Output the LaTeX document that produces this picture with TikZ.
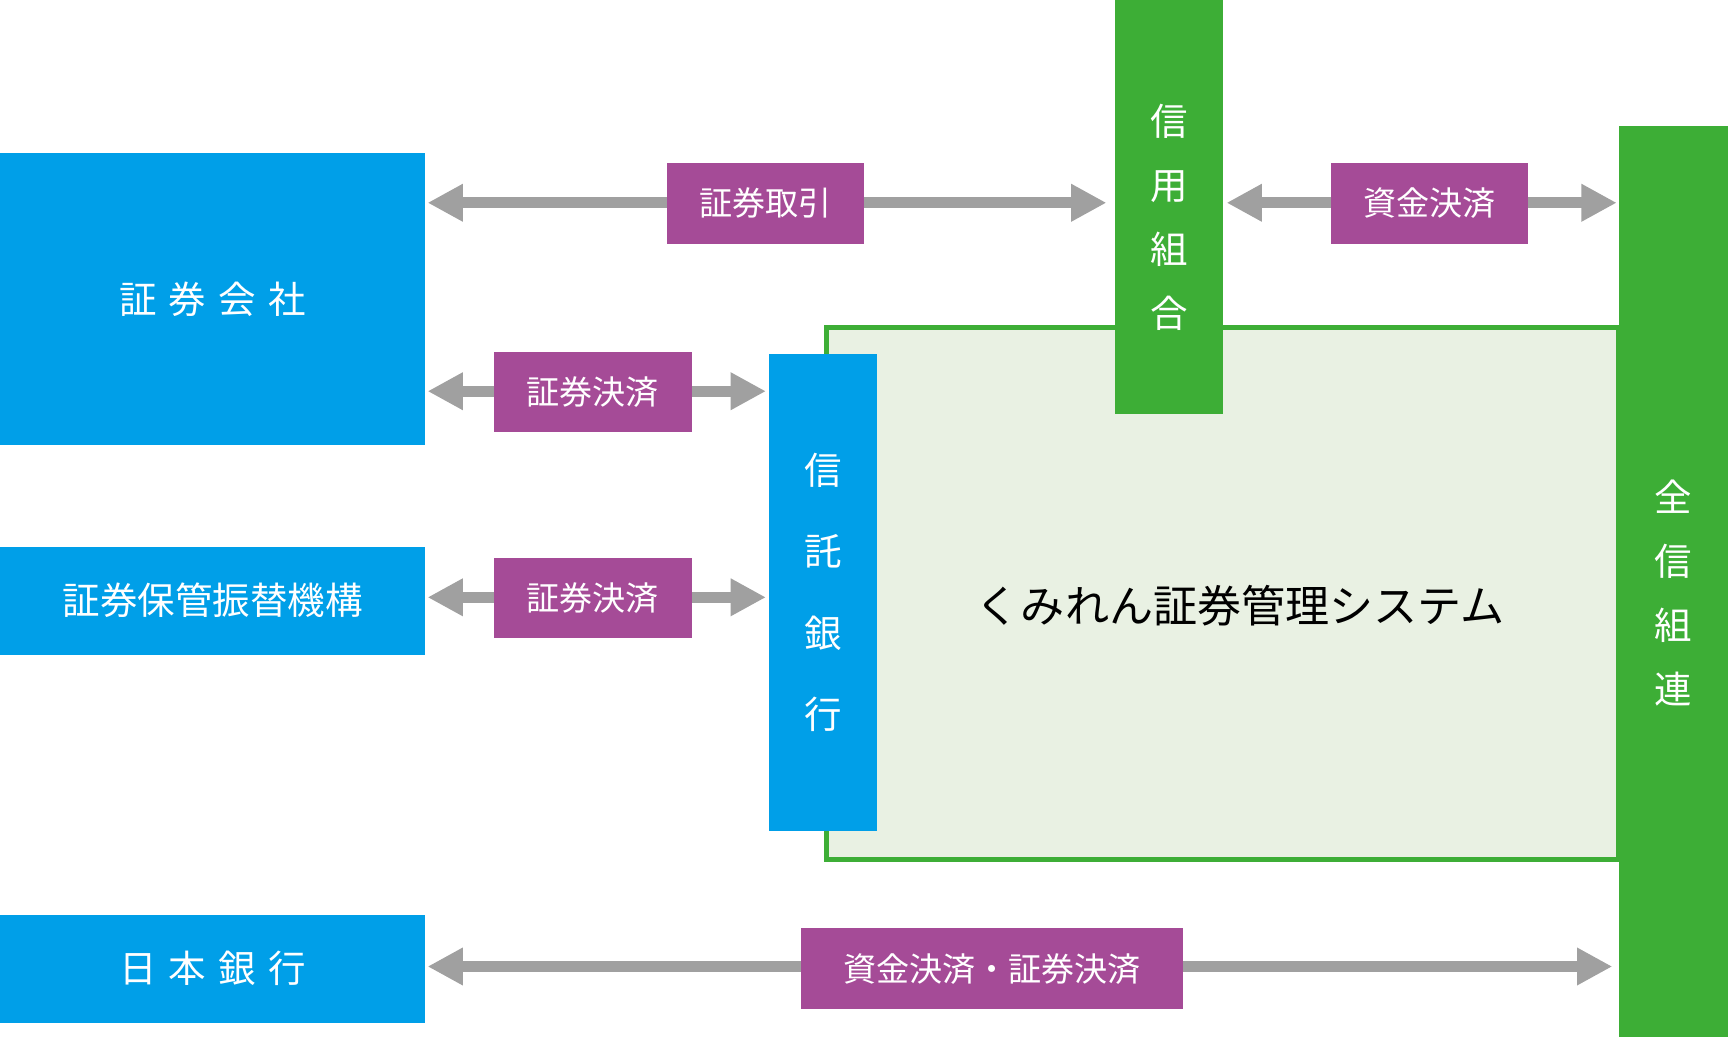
\documentclass[tikz,border=0pt]{standalone}
\usepackage{fontspec}
\setmainfont{Noto Sans CJK JP}
\usetikzlibrary{arrows.meta}
\definecolor{bl}{HTML}{009FE8}
\definecolor{gr}{HTML}{3DAE36}
\definecolor{pu}{HTML}{A54B97}
\definecolor{ar}{HTML}{A0A0A0}
\definecolor{lg}{HTML}{E9F1E3}
\begin{document}
\begin{tikzpicture}[x=0.5pt,y=-0.5pt,
 box/.style={fill=bl,text=white,inner sep=0,font=\fontsize{17}{29}\selectfont,align=center},
 gbox/.style={fill=gr,text=white,inner sep=0,font=\fontsize{17}{29}\selectfont,align=center},
 lab/.style={fill=pu,text=white,inner sep=0,minimum width=89.5pt,minimum height=36.5pt,font=\fontsize{15}{18}\selectfont},
 arr/.style={draw=ar,line width=5pt,{Triangle[length=16pt,width=16pt]}-{Triangle[length=16pt,width=16pt]}}]
\useasboundingbox (0,0) rectangle (1568,941);
\path[fill=lg,draw=gr,line width=2.5pt] (750,297) rectangle (1469,780);
\node (sys) at (1125,550) {\fontsize{20}{24}\selectfont くみれん証券管理システム};
\node[box,minimum width=193pt,minimum height=132.5pt] (sec) at (193,271.5) {証\,\,券\,\,会\,\,社};
\node[box,minimum width=193pt,minimum height=49pt] (jas) at (193,545) {証券保管振替機構};
\node[box,minimum width=193pt,minimum height=49pt] (boj) at (193,879) {日\,\,本\,\,銀\,\,行};
\node[box,minimum width=49pt,minimum height=216.5pt,font=\fontsize{17}{37}\selectfont] (trust) at (747,537.5) {信\\託\\銀\\行};
\node[gbox,minimum width=49pt,minimum height=188pt] (cred) at (1061,188) {};
\node[text=white,font=\fontsize{17}{29}\selectfont,align=center] (credt) at (1061,197) {信\\用\\組\\合};
\node[gbox,minimum width=49.5pt,minimum height=413.5pt] (zen) at (1518.5,527.5) {};
\node[text=white,font=\fontsize{17}{29}\selectfont,align=center] (zent) at (1518.5,538) {全\\信\\組\\連};
\coordinate (a1) at (388,184); \coordinate (b1) at (1004,184);
\coordinate (a2) at (1113,184); \coordinate (b2) at (1467,184);
\coordinate (a3) at (388,355); \coordinate (b3) at (695,355);
\coordinate (a4) at (388,542); \coordinate (b4) at (695,542);
\coordinate (a5) at (388,877); \coordinate (b5) at (1463,877);
\draw[arr] (a1) -- (b1);
\draw[arr] (a2) -- (b2);
\draw[arr] (a3) -- (b3);
\draw[arr] (a4) -- (b4);
\draw[arr] (a5) -- (b5);
\node[lab] (l1) at (694.5,184.5) {証券取引};
\node[lab] (l2) at (1297,184.5) {資金決済};
\node[lab] (l3) at (538,355.5) {証券決済};
\node[lab] (l4) at (538,542.5) {証券決済};
\node[lab,minimum width=173.5pt] (l5) at (900,879) {資金決済・証券決済};
\end{tikzpicture}
\end{document}
